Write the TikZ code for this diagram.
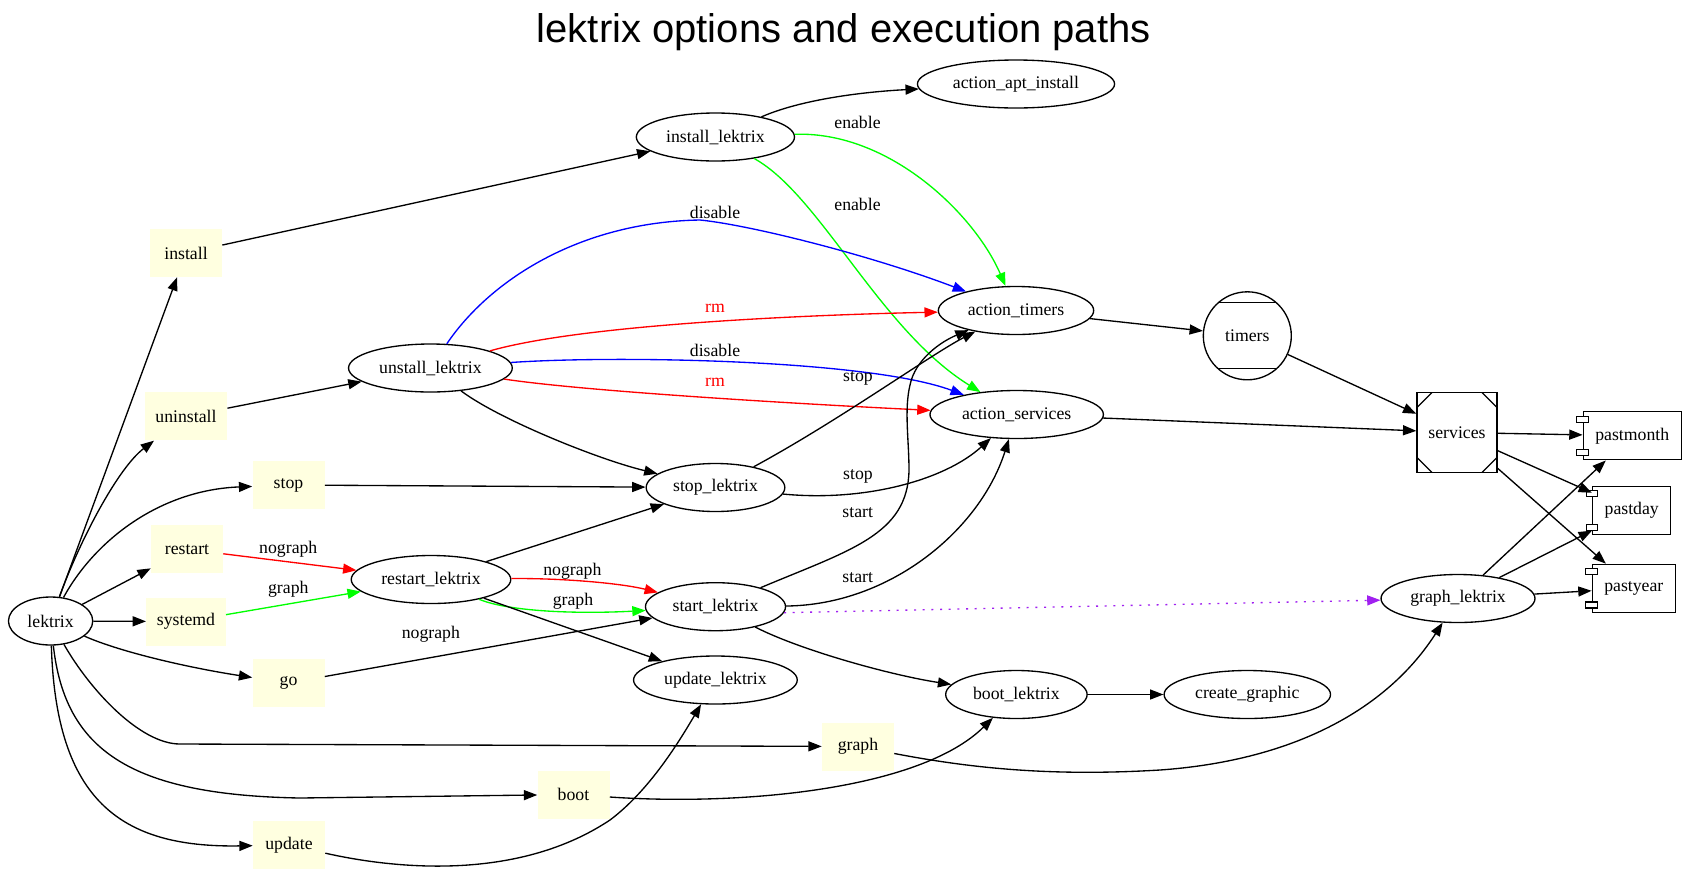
\documentclass[tikz,border=0pt]{standalone}
\usepackage{fontspec}
\setmainfont{Liberation Serif}
\newfontfamily\titlefont{Liberation Sans}
\usetikzlibrary{arrows.meta,shapes.geometric}
\definecolor{optfill}{RGB}{255,255,224}
\definecolor{dotpurple}{RGB}{160,32,240}
\tikzset{
  opt/.style={rectangle, fill=optfill, minimum width=54pt, minimum height=36pt, inner xsep=8pt},
  act/.style={ellipse, draw, line width=1pt, minimum height=36pt, inner xsep=5pt, inner ysep=2pt},
  comp/.style={rectangle, draw, line width=1pt, minimum height=36pt, inner xsep=9pt},
  mcirc/.style={circle, draw, line width=1pt, minimum size=66pt, inner sep=0pt,
    path picture={
      \draw[line width=1pt] ([yshift=-8.25pt]path picture bounding box.north west) -- ([yshift=-8.25pt]path picture bounding box.north east);
      \draw[line width=1pt] ([yshift=8.25pt]path picture bounding box.south west) -- ([yshift=8.25pt]path picture bounding box.south east);}},
  msq/.style={rectangle, draw, line width=1pt, minimum size=60pt, inner sep=0pt,
    path picture={
      \draw[line width=1pt] ([yshift=-11.25pt]path picture bounding box.north west) -- ([xshift=11.25pt]path picture bounding box.north west);
      \draw[line width=1pt] ([yshift=-11.25pt]path picture bounding box.north east) -- ([xshift=-11.25pt]path picture bounding box.north east);
      \draw[line width=1pt] ([yshift=11.25pt]path picture bounding box.south west) -- ([xshift=11.25pt]path picture bounding box.south west);
      \draw[line width=1pt] ([yshift=11.25pt]path picture bounding box.south east) -- ([xshift=-11.25pt]path picture bounding box.south east);}},
  lbl/.style={inner sep=1pt},
  flow/.style={-{Triangle[length=10pt,width=7.5pt]}, line width=1pt}
}

\begin{document}
\begin{tikzpicture}[x=0.75pt, y=-0.75pt, font=\fontsize{13.3}{16}\selectfont]
  \useasboundingbox (0,0) rectangle (1687,875);
  \node[font=\titlefont\fontsize{30}{36}\selectfont, anchor=base] (title) at (843.7,42.7) {lektrix options and execution paths};

  \node[act] (lektrix) at (50.6,621) {lektrix};
  \node[opt] (install) at (186,253) {install};
  \node[opt] (uninstall) at (186,416.4) {uninstall};
  \node[opt] (stop) at (288.5,485) {stop};
  \node[opt] (restart) at (187,549.3) {restart};
  \node[opt] (systemd) at (186,621.5) {systemd};
  \node[opt] (go) at (288.5,683) {go};
  \node[opt] (graph) at (858,746.5) {graph};
  \node[opt] (boot) at (573.5,794.5) {boot};
  \node[opt] (update) at (289,845) {update};

  \node[act] (installLx) at (715.4,137) {install\_lektrix};
  \node[act] (aptInstall) at (1016,84) {action\_apt\_install};
  \node[act] (unstallLx) at (430.4,368) {unstall\_lektrix};
  \node[act] (actTimers) at (1016,310.5) {action\_timers};
  \node[act] (actServices) at (1016.7,414.5) {action\_services};
  \node[act] (stopLx) at (715.5,487.5) {stop\_lektrix};
  \node[act] (restartLx) at (431,579.5) {restart\_lektrix};
  \node[act] (startLx) at (715.5,606.7) {start\_lektrix};
  \node[act] (updateLx) at (715.4,680) {update\_lektrix};
  \node[act] (bootLx) at (1016.4,694.5) {boot\_lektrix};
  \node[act] (createGraphic) at (1247.3,694.5) {create\_graphic};
  \node[act] (graphLx) at (1458,598.5) {graph\_lektrix};
  \node[mcirc] (timers) at (1247.3,335.8) {timers};
  \node[msq] (services) at (1457,432.5) {services};
  \node[comp] (pastmonth) at (1632.2,435.8) {pastmonth};
  \node[comp] (pastday) at (1631.7,510.5) {pastday};
  \node[comp] (pastyear) at (1633.8,588.3) {pastyear};
  \foreach \c in {pastmonth,pastday,pastyear} {
    \draw[fill=white, line width=0.8pt] ([xshift=-4.4pt,yshift=-3.75pt]\c.north west) rectangle ([xshift=4.4pt,yshift=-8.25pt]\c.north west);
    \draw[fill=white, line width=0.8pt] ([xshift=-4.4pt,yshift=3.75pt]\c.south west) rectangle ([xshift=4.4pt,yshift=8.25pt]\c.south west);
  }

  \draw[flow] (lektrix) -- (install);
  \draw[flow] (lektrix) .. controls (80,540) and (118,468) .. (uninstall);
  \draw[flow] (lektrix) .. controls (95,540) and (160,490) .. (stop);
  \draw[flow] (lektrix) -- (restart);
  \draw[flow] (lektrix) -- (systemd);
  \draw[flow] (lektrix) .. controls (120,652) and (190,668) .. (go);
  \draw[flow] (lektrix) .. controls (90,690) and (140,744) .. (180,744) -- (graph);
  \draw[flow] (lektrix) .. controls (65,750) and (130,795) .. (300,798) -- (boot);
  \draw[flow] (lektrix) .. controls (56,800) and (120,848) .. (update);

  \draw[flow] (install) -- (installLx);
  \draw[flow] (uninstall) -- (unstallLx);
  \draw[flow] (stop) -- (stopLx);
  \draw[flow, red] (restart) -- (restartLx);
  \draw[flow, green] (systemd) -- (restartLx);
  \draw[flow] (go) -- (startLx);
  \draw[flow] (graph) .. controls (980,770) and (1060,776) .. (1160,770) .. controls (1300,760) and (1390,705) .. (graphLx);
  \draw[flow] (boot) .. controls (740,806) and (920,790) .. (bootLx);
  \draw[flow] (update) .. controls (400,870) and (520,880) .. (610,820) .. controls (650,790) and (680,740) .. (updateLx);

  \draw[flow] (installLx) .. controls (800,100) and (860,92) .. (aptInstall);
  \draw[flow, green] (installLx) .. controls (890,131) and (975,215) .. (actTimers);
  \draw[flow, green] (installLx) .. controls (820,195) and (880,330) .. (actServices);
  \draw[flow, blue] (unstallLx) .. controls (490,280) and (580,222) .. (700,220) .. controls (750,225) and (870,255) .. (actTimers);
  \draw[flow, red] (unstallLx) .. controls (580,325) and (800,315) .. (actTimers);
  \draw[flow, blue] (unstallLx) .. controls (620,355) and (870,360) .. (actServices);
  \draw[flow, red] (unstallLx) .. controls (590,392) and (820,405) .. (actServices);
  \draw[flow] (unstallLx) .. controls (500,420) and (600,460) .. (stopLx);
  \draw[flow] (stopLx) .. controls (840,420) and (930,355) .. (actTimers);
  \draw[flow] (stopLx) .. controls (865,502) and (945,480) .. (actServices);
  \draw[flow] (startLx) .. controls (850,550) and (908,535) .. (909,470) .. controls (909,440) and (904,410) .. (910,385) .. controls (915,360) and (940,342) .. (actTimers);
  \draw[flow] (startLx) .. controls (890,605) and (980,530) .. (actServices);
  \draw[flow] (restartLx) -- (stopLx);
  \draw[flow, red] (restartLx) .. controls (560,578) and (620,583) .. (startLx);
  \draw[flow, green] (restartLx) .. controls (510,612) and (580,614) .. (startLx);
  \draw[flow] (restartLx) -- (updateLx);
  \draw[flow] (startLx) .. controls (800,650) and (890,675) .. (bootLx);
  \draw[flow, dotpurple, dash pattern=on 1.5pt off 5pt] (startLx.-5) -- (graphLx);
  \draw[flow] (bootLx) -- (createGraphic);

  \draw[flow] (actTimers) -- (timers);
  \draw[flow] (actServices) -- (services);
  \draw[flow] (timers) -- (services);
  \draw[flow] (services) -- (pastmonth);
  \draw[flow] (services) -- (pastday);
  \draw[flow] (services) -- (pastyear);
  \draw[flow] (graphLx) -- (pastmonth);
  \draw[flow] (graphLx) -- (pastday);
  \draw[flow] (graphLx) -- (pastyear);

  \node[lbl] (lblEnableTop) at (857.5,122) {enable};
  \node[lbl] (lblEnableLow) at (857.5,204.4) {enable};
  \node[lbl] (lblDisableTop) at (715,212.3) {disable};
  \node[lbl, text=red] (lblRmTop) at (715,308.5) {rm};
  \node[lbl] (lblDisableLow) at (715,350.7) {disable};
  \node[lbl, text=red] (lblRmLow) at (715,382.5) {rm};
  \node[lbl] (lblStopTop) at (858,378.3) {stop};
  \node[lbl] (lblStopLow) at (858,476.7) {stop};
  \node[lbl] (lblStartTop) at (857.7,512.7) {start};
  \node[lbl] (lblStartLow) at (857.7,577.3) {start};
  \node[lbl] (lblNographA) at (288.3,549) {nograph};
  \node[lbl] (lblGraphA) at (288.3,589.3) {graph};
  \node[lbl] (lblNographB) at (572.4,571) {nograph};
  \node[lbl] (lblGraphB) at (573,601) {graph};
  \node[lbl] (lblNographC) at (430.9,634) {nograph};
\end{tikzpicture}
\end{document}
